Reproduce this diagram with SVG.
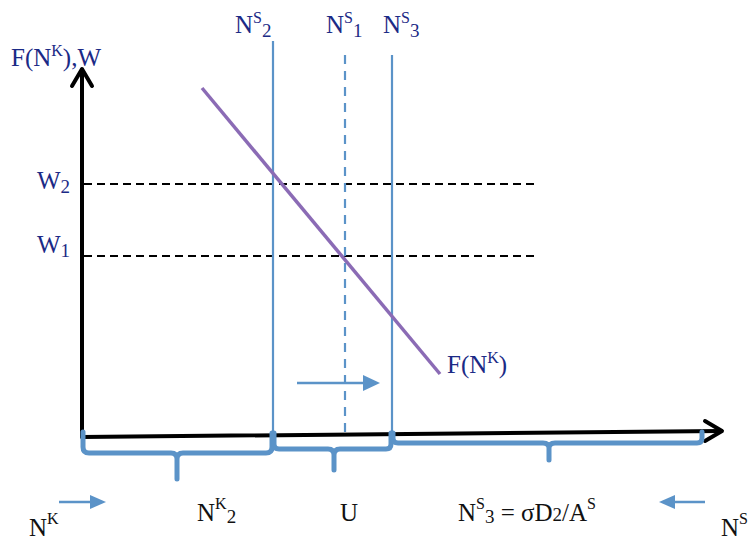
<svg xmlns="http://www.w3.org/2000/svg" width="751" height="540" viewBox="0 0 751 540">
<style>
.t{font-family:"Liberation Serif","Times New Roman",serif;font-size:25px;fill:#1b2a86}
.b{fill:#111}
.sup{font-size:16px}
.sub{font-size:19px}
.ax{stroke:#000;stroke-width:4;fill:none;stroke-linecap:round;stroke-linejoin:round}
.vl{stroke:#5b93c8;stroke-width:2.2;fill:none}
.br{stroke:#5b93c8;stroke-width:5;fill:none;stroke-linecap:round;stroke-linejoin:round}
.hd{stroke:#000;stroke-width:1.8;stroke-dasharray:8,5;fill:none}
.ar{stroke:#5b93c8;stroke-width:2.5;fill:none}
.ah{fill:#5b93c8}
</style>
<rect width="751" height="540" fill="#fff"/>
<g id="connectors">
  <line class="hd" x1="84" y1="184" x2="538" y2="184"/>
  <line class="hd" x1="84" y1="256" x2="538" y2="256"/>
  <line class="vl" x1="273" y1="41" x2="273" y2="440"/>
  <line class="vl" x1="345" y1="55" x2="345" y2="432" stroke-dasharray="9,7"/>
  <line class="vl" x1="392" y1="55" x2="392" y2="440"/>
  <line x1="202" y1="88" x2="440" y2="374" stroke="#8b6bb5" stroke-width="3.5"/>
  <line class="ar" x1="297" y1="383" x2="366" y2="383"/>
  <polygon class="ah" points="380,383 363,375 363,391"/>
  <line class="ax" x1="82" y1="70" x2="82" y2="437"/>
  <polyline class="ax" points="72,86 82,69 92,86"/>
  <line class="ax" x1="82" y1="437" x2="721" y2="431"/>
  <polyline class="ax" points="705,421 722,431 705,441"/>
  <path class="br" d="M83,432 V447 Q83,453 89,453 H171 Q177,453 177,459 V479 M177,459 Q177,453 183,453 H266 Q272,453 272,447 V433"/>
  <path class="br" d="M274,433 V444 Q274,449 279,449 H328 Q334,449 334,455 V470 M334,455 Q334,449 340,449 H386 Q391,449 391,444 V433"/>
  <path class="br" d="M393,433 V438 Q393,443 398,443 H543 Q549,443 549,448 V460 M549,448 Q549,443 555,443 H697 Q702,443 702,438 V432"/>
  <line class="ar" x1="59" y1="502" x2="93" y2="502"/>
  <polygon class="ah" points="106,502 90,495 90,509"/>
  <line class="ar" x1="705" y1="502" x2="672" y2="502"/>
  <polygon class="ah" points="659,502 675,495 675,509"/>
</g>
<g id="label-yaxis"><text class="t" x="11" y="66" font-size="26">F(N<tspan class="sup" dy="-10">K</tspan><tspan dy="10">),W</tspan></text></g>
<g id="label-ns2"><text class="t" x="235" y="33">N<tspan class="sup" dy="-10">S</tspan><tspan class="sub" dy="14">2</tspan></text></g>
<g id="label-ns1"><text class="t" x="326" y="33">N<tspan class="sup" dy="-10">S</tspan><tspan class="sub" dy="14">1</tspan></text></g>
<g id="label-ns3"><text class="t" x="383" y="33">N<tspan class="sup" dy="-10">S</tspan><tspan class="sub" dy="14">3</tspan></text></g>
<g id="label-w2"><text class="t" x="37" y="189">W<tspan class="sub" dy="4">2</tspan></text></g>
<g id="label-w1"><text class="t" x="37" y="253">W<tspan class="sub" dy="4">1</tspan></text></g>
<g id="label-fnk"><text class="t" x="447" y="373">F(N<tspan class="sup" dy="-10">K</tspan><tspan dy="10">)</tspan></text></g>
<g id="label-nk"><text class="t b" x="29" y="536" font-size="27">N<tspan class="sup" dy="-12" font-size="17">K</tspan></text></g>
<g id="label-nk2"><text class="t b" x="197" y="521" font-size="27">N<tspan class="sup" dy="-12" font-size="17">K</tspan><tspan class="sub" dy="14" font-size="20">2</tspan></text></g>
<g id="label-u"><text class="t b" x="340" y="521" font-size="27">U</text></g>
<g id="label-ns3eq"><text class="t b" x="458" y="521" font-size="27">N<tspan class="sup" dy="-12" font-size="17">S</tspan><tspan class="sub" dy="14" font-size="20">3</tspan><tspan dy="-2"> = σD</tspan><tspan class="sub" font-size="18">2</tspan><tspan>/A</tspan><tspan class="sup" dy="-12" font-size="17">S</tspan></text></g>
<g id="label-ns"><text class="t b" x="721" y="536" font-size="27">N<tspan class="sup" dy="-12" font-size="17">S</tspan></text></g>
</svg>
